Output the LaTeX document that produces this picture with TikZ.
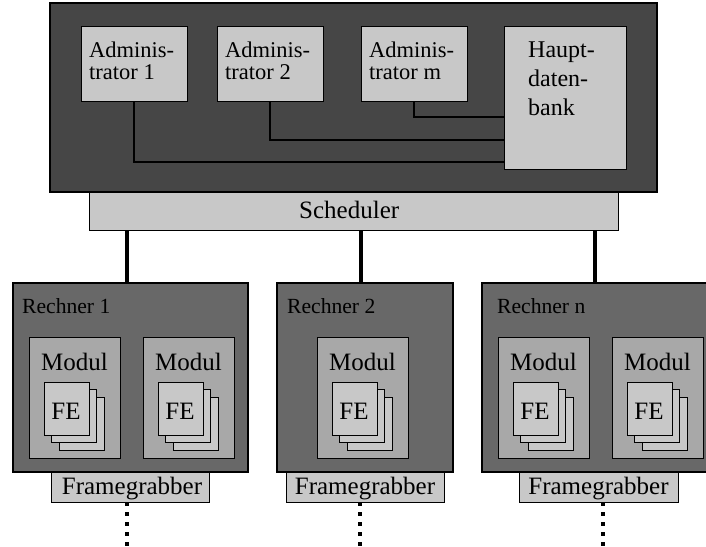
\documentclass[tikz,border=0pt]{standalone}
\usepackage{fontspec}
\setmainfont{Liberation Serif}
\definecolor{topfill}{HTML}{464646}
\definecolor{pcfill}{HTML}{686868}
\definecolor{modfill}{HTML}{A8A8A8}
\definecolor{lite}{HTML}{C8C8C8}
\tikzset{
  blk/.style={draw=black, anchor=north west, inner sep=0pt, outer sep=0pt},
  topbox/.style={blk, fill=topfill, line width=2pt},
  pcbox/.style={blk, fill=pcfill, line width=2.2pt},
  litebox/.style={blk, fill=lite, line width=1pt},
  modbox/.style={blk, fill=modfill, line width=1pt},
  txtA/.style={anchor=base west, inner sep=0pt, font=\fontsize{22.5}{22}\selectfont},
  txtR/.style={anchor=base west, inner sep=0pt, font=\fontsize{21.6}{22}\selectfont},
  txtH/.style={anchor=base west, inner sep=0pt, font=\fontsize{24}{26}\selectfont},
  txtB/.style={anchor=base, inner sep=0pt, font=\fontsize{25}{28}\selectfont},
  txtBw/.style={anchor=base west, inner sep=0pt, font=\fontsize{25}{28}\selectfont},
  wire/.style={line width=2pt},
  bus/.style={line width=4pt},
  dotwire/.style={line width=4pt, dash pattern=on 4pt off 6pt}
}
\newcommand\festack[3]{%
  \node[litebox, minimum width=45pt, minimum height=53pt] (#1c) at (#2+15.3,#3+15.3) {};
  \node[litebox, minimum width=45pt, minimum height=53pt] (#1b) at (#2+7.6,#3+7.6) {};
  \node[litebox, minimum width=45pt, minimum height=53pt] (#1a) at (#2,#3) {};
  \node[txtB] (#1t) at (#2+22,#3+37) {FE};
}
\newcommand\modulbox[2]{%
  \node[modbox, minimum width=91pt, minimum height=121pt] (#1) at (#2,337) {};
  \node[txtB] (#1t) at (#2+45.5,370) {Modul};
  \festack{#1fe}{#2+15}{382}
}
\begin{document}
\begin{tikzpicture}[x=1pt,y=-1pt]
\useasboundingbox (0,0) rectangle (706,546);
% top system
\node[topbox, minimum width=607pt, minimum height=189pt] (top) at (50,3) {};
\node[litebox, minimum width=106pt, minimum height=75pt] (a1) at (81,26) {};
\node[litebox, minimum width=106pt, minimum height=75pt] (a2) at (217,26) {};
\node[litebox, minimum width=106pt, minimum height=75pt] (am) at (361,26) {};
\node[litebox, minimum width=122pt, minimum height=143pt] (db) at (504,26) {};
\node[txtA] (a1t1) at (89,57) {Adminis-};
\node[txtA] (a1t2) at (89,79) {trator 1};
\node[txtA] (a2t1) at (225,57) {Adminis-};
\node[txtA] (a2t2) at (225,79) {trator 2};
\node[txtA] (amt1) at (369,57) {Adminis-};
\node[txtA] (amt2) at (369,79) {trator m};
\node[txtH] (dbt1) at (528,57) {Haupt-};
\node[txtH] (dbt2) at (528,86.5) {daten-};
\node[txtH] (dbt3) at (528,115.5) {bank};
\coordinate (y1) at (0,162);
\coordinate (y2) at (0,140);
\coordinate (ym) at (0,117);
\draw[wire] (a1.south) |- (db.west |- y1);
\draw[wire] (a2.south) |- (db.west |- y2);
\draw[wire] (am.south) |- (db.west |- ym);
% scheduler
\node[blk, fill=lite, line width=1pt, minimum width=529pt, minimum height=38pt] (sched) at (89,192) {};
\node[txtBw] (schedt) at (299,218) {Scheduler};
% computers
\node[pcbox, minimum width=235pt, minimum height=189pt] (r1) at (13,283) {};
\node[pcbox, minimum width=176pt, minimum height=189pt] (r2) at (277,283) {};
\node[pcbox, minimum width=240pt, minimum height=189pt] (rn) at (482,283) {};
\node[txtR] (r1t) at (22,313) {Rechner 1};
\node[txtR] (r2t) at (287,313) {Rechner 2};
\node[txtR] (rnt) at (497,313) {Rechner n};
\modulbox{m1a}{29}
\modulbox{m1b}{143}
\modulbox{m2a}{317}
\modulbox{mna}{498}
\modulbox{mnb}{612}
% framegrabbers
\node[litebox, minimum width=158pt, minimum height=30pt] (fg1) at (51,472) {};
\node[litebox, minimum width=158pt, minimum height=30pt] (fg2) at (286,472) {};
\node[litebox, minimum width=159pt, minimum height=30pt] (fgn) at (519,472) {};
\node[txtB] (fg1t) at (132,494) {Framegrabber};
\node[txtB] (fg2t) at (365,494) {Framegrabber};
\node[txtB] (fgnt) at (598.5,494) {Framegrabber};
% bus lines
\coordinate (c1) at (127,0);
\coordinate (c2) at (361,0);
\coordinate (c3) at (595,0);
\draw[bus] (sched.south -| c1) -- (r1.north -| c1);
\draw[bus] (sched.south -| c2) -- (r2.north -| c2);
\draw[bus] (sched.south -| c3) -- (rn.north -| c3);
% dotted outputs
\coordinate (e1) at (127,546);
\coordinate (e2) at (360,546);
\coordinate (en) at (603,546);
\draw[dotwire] (fg1.south -| e1) -- (e1);
\draw[dotwire] (fg2.south -| e2) -- (e2);
\draw[dotwire] (fgn.south -| en) -- (en);
\end{tikzpicture}
\end{document}
